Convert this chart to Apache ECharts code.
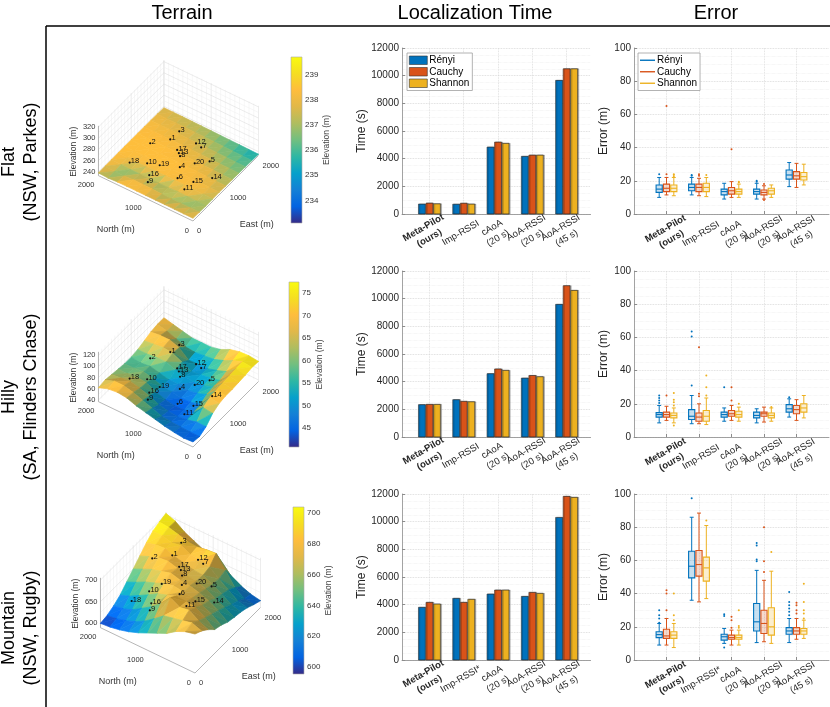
<!DOCTYPE html>
<html>
<head>
<meta charset="utf-8">
<title>Terrain, localization time and error</title>
<script src="https://cdn.jsdelivr.net/npm/echarts@6.0.0/dist/echarts.min.js"></script>
<style>
  html, body { margin: 0; padding: 0; background: #fff; }
  #chart { width: 830px; height: 707px; }
</style>
</head>
<body>
<div id="chart"></div>
<script>
// ---------------- data ----------------
const methods = ['Rényi', 'Cauchy', 'Shannon'];
const columnTitles = ['Terrain', 'Localization Time', 'Error'];
const terrainNames = [['Flat', '(NSW, Parkes)'], ['Hilly', '(SA, Flinders Chase)'], ['Mountain', '(NSW, Rugby)']];
const baselineLines = [['Meta-Pilot', '(ours)'], ['Imp-RSSI'], ['cAoA', '(20 s)'], ['AoA-RSSI', '(20 s)'], ['AoA-RSSI', '(45 s)']];
const baselineLinesMountain = [['Meta-Pilot', '(ours)'], ['Imp-RSSI*'], ['cAoA', '(20 s)'], ['AoA-RSSI', '(20 s)'], ['AoA-RSSI', '(45 s)']];
const groupPos = [1, 2, 3, 4, 5];

// localization time (s): one row per method, one column per baseline
const timeFlat = [
  [720, 710, 4840, 4170, 9660],
  [790, 780, 5200, 4260, 10500],
  [740, 720, 5110, 4260, 10500]
];
const timeHilly = [
  [2340, 2700, 4580, 4260, 9590],
  [2360, 2580, 4920, 4450, 10940],
  [2360, 2550, 4820, 4360, 10600]
];
const timeMountain = [
  [3810, 4460, 4770, 4600, 10310],
  [4170, 4170, 5060, 4890, 11830],
  [4050, 4390, 5060, 4820, 11760]
];

// error boxes (m): [lower whisker, Q1, median, Q3, upper whisker]
const boxFlat = [
  [[10, 13, 15, 17.5, 22], [11.5, 14, 16, 18, 22], [9, 11.5, 13.5, 15, 18.5], [9, 12, 13.5, 15, 18.5], [16.5, 21, 23.5, 26.5, 31]],
  [[11.5, 13.5, 15.5, 18, 22], [11, 13.5, 16, 18, 21.5], [10, 12, 14, 16, 19.5], [9, 11.5, 13, 14.5, 17], [16, 21, 23, 25.5, 30.5]],
  [[11, 13.5, 15.5, 17.5, 22], [10.5, 13.5, 16, 18.5, 22], [10, 12, 13.5, 15, 18], [10, 12, 14, 15.5, 17.5], [17.5, 20.5, 22.5, 25, 30]]
];
const outFlat = [
  [[1, 24], [2, 23], [2, 23.5], [4, 19.5], [4, 20]],
  [[1, 24], [1, 65], [2, 23], [2, 24], [3, 39], [4, 18], [4, 8.5]],
  [[1, 22.5], [1, 23.5], [1, 24], [2, 23.5], [3, 19], [3, 19.5]]
];
const boxHilly = [
  [[8.5, 12, 13.5, 14.7, 19], [8, 10.5, 12.5, 16.5, 25], [9.5, 12, 13.5, 15, 17.5], [8.5, 11.5, 13, 15, 17], [12, 15, 17, 19.5, 23]],
  [[10, 12, 13.5, 15, 18.5], [8, 9.5, 12, 14.5, 20], [10, 12.5, 14, 16, 19], [9, 12.5, 14, 15, 18], [10, 14, 16.5, 19, 22.5]],
  [[8.5, 11.5, 13, 14.5, 17.5], [7.5, 9.5, 12.5, 16, 23.5], [9.5, 12, 13.5, 15.5, 18], [9.5, 11.5, 13, 14.5, 17.5], [11.5, 15, 17.5, 20, 25]]
];
const outHilly = [
  [[1, 20.5], [1, 22], [1, 23.5], [1, 25], [2, 31], [2, 60.5], [2, 63.5], [3, 30], [5, 24]],
  [[1, 25], [2, 24.5], [2, 26], [2, 54], [3, 22], [3, 30]],
  [[1, 7], [1, 19], [1, 21], [1, 22.5], [1, 26.5], [2, 25], [2, 30], [2, 37], [3, 20], [4, 18]]
];
const boxMountain = [
  [[9, 13.5, 15.3, 17, 22], [36, 49.5, 56.5, 65.5, 86], [10, 12, 14, 15.5, 19], [10.5, 17.5, 23, 34, 54], [10.5, 15.5, 17.5, 19.5, 25]],
  [[9, 13, 14.5, 18.5, 25], [35, 50.5, 57.5, 66, 88.5], [9, 12.5, 13.5, 15, 18], [11, 16, 22, 30, 48], [12.5, 15.5, 17.5, 19.5, 25]],
  [[7.5, 13, 15, 17, 22], [37, 47.5, 55.5, 62, 81], [9, 12.5, 13.5, 15, 18], [10, 15, 20, 31.5, 53.5], [13, 15.5, 17.5, 19, 24]]
];
const outMountain = [
  [[1, 22.5], [1, 25], [1, 27], [1, 30], [2, 97.5], [3, 7.5], [3, 26.5], [3, 27.5], [4, 59.5], [4, 60.5], [4, 69], [4, 70.5],
   [5, 27], [5, 29], [5, 31], [5, 33], [5, 35], [5, 41]],
  [[1, 30], [1, 40], [1, 42], [3, 19.5], [3, 24], [3, 26], [4, 53], [4, 59.5], [4, 80], [5, 28], [5, 30], [5, 33], [5, 34.5]],
  [[1, 24], [1, 27], [1, 40], [2, 84], [3, 19.5], [3, 20.5], [3, 30], [4, 65], [5, 25], [5, 28], [5, 30], [5, 35], [5, 46]]
];

// terrain elevation (m) on a 200 m grid; rows = North 0..2000, columns = East 0..2000
const elevFlat = [
  [237.8, 237.3, 236.9, 237.3, 237.5, 237.2, 236.9, 236.6, 236.2, 235.8, 235.3],
  [238.0, 236.9, 236.9, 237.8, 238.0, 237.6, 237.1, 236.8, 236.4, 236.0, 235.6],
  [238.1, 236.8, 237.5, 238.1, 238.2, 238.0, 237.6, 237.1, 236.7, 236.2, 235.9],
  [238.2, 236.7, 237.8, 238.2, 238.3, 238.2, 237.9, 237.4, 237.0, 236.6, 236.2],
  [238.2, 237.0, 236.8, 238.3, 238.3, 238.3, 238.0, 237.7, 237.3, 236.9, 236.5],
  [238.3, 237.9, 236.7, 238.2, 238.4, 238.4, 238.2, 237.9, 237.5, 237.2, 236.8],
  [238.3, 238.1, 236.8, 238.1, 238.4, 238.4, 238.3, 238.1, 237.7, 237.4, 237.0],
  [238.2, 238.2, 237.0, 238.0, 238.4, 238.4, 238.4, 238.2, 237.9, 237.6, 237.2],
  [238.1, 236.9, 236.8, 237.9, 238.4, 238.4, 238.4, 238.3, 238.0, 237.7, 237.4],
  [237.0, 236.8, 237.7, 238.1, 238.4, 238.4, 238.4, 238.3, 238.1, 237.8, 237.5],
  [238.0, 238.2, 238.3, 238.4, 238.4, 238.4, 238.4, 238.3, 238.2, 237.9, 237.6]
];
const elevHilly = [
  [46, 44, 50, 62, 68, 70, 70, 71, 72, 74, 73],
  [45, 44, 50, 64, 70, 72, 73, 74, 75, 76, 75],
  [47, 45, 46, 48, 50, 56, 58, 58, 62, 70, 74],
  [50, 46, 44, 44, 46, 50, 52, 54, 56, 62, 70],
  [54, 48, 45, 43, 45, 47, 50, 52, 51, 56, 62],
  [58, 54, 49, 46, 48, 50, 52, 49, 51, 54, 58],
  [62, 60, 56, 52, 50, 50, 56, 58, 50, 52, 58],
  [68, 66, 62, 60, 56, 54, 62, 66, 64, 54, 58],
  [70, 70, 66, 62, 60, 58, 62, 68, 70, 60, 62],
  [68, 70, 64, 60, 58, 56, 60, 66, 70, 66, 66],
  [62, 64, 62, 60, 58, 58, 60, 64, 68, 70, 70]
];
const elevMountain = [
  [680, 672, 660, 645, 640, 632, 628, 625, 620, 612, 606],
  [675, 680, 670, 662, 655, 648, 640, 632, 625, 615, 610],
  [665, 675, 684, 675, 665, 660, 650, 645, 640, 630, 618],
  [650, 670, 680, 678, 672, 668, 662, 658, 655, 660, 628],
  [640, 665, 692, 680, 675, 674, 670, 668, 672, 688, 640],
  [630, 648, 668, 672, 678, 676, 672, 670, 678, 686, 650],
  [620, 632, 650, 665, 674, 682, 678, 675, 680, 682, 660],
  [612, 620, 636, 652, 664, 676, 684, 680, 690, 684, 670],
  [606, 612, 622, 640, 656, 670, 682, 688, 686, 690, 680],
  [602, 606, 614, 628, 645, 660, 674, 686, 692, 696, 695],
  [600, 603, 610, 620, 635, 650, 665, 680, 692, 698, 703]
];
const areaSize = 2000;
const northTicks = [0, 1000, 2000];
const eastTicks = [0, 1000, 2000];
const zlimFlat = [233, 322], zTicksFlat = [240, 260, 280, 300, 320];
const zlimHilly = [37, 126], zTicksHilly = [40, 60, 80, 100, 120];
const zlimMountain = [590, 705], zTicksMountain = [600, 650, 700];
const cbarFlat = [233.1, 239.7], cbTicksFlat = [234, 235, 236, 237, 238, 239];
const cbarHilly = [40.8, 77.4], cbTicksHilly = [45, 50, 55, 60, 65, 70, 75];
const cbarMountain = [595.5, 704], cbTicksMountain = [600, 620, 640, 660, 680, 700];

// sensor positions (m)
const sensorIds = [1, 2, 3, 4, 5, 6, 7, 8, 9, 10, 11, 12, 13, 14, 15, 16, 17, 18, 19, 20];
const sensorE = [1400, 1120, 1660, 920, 1345, 670, 1550, 1150, 310, 680, 510, 1580, 1200, 1020, 750, 470, 1250, 520, 760, 1150];
const sensorN = [1450, 1680, 1440, 915, 580, 790, 900, 1070, 1170, 1440, 535, 1030, 1130, 300, 510, 1250, 1200, 1700, 1230, 760];

// ---------------- styling / layout ----------------
const FONT = '"Liberation Sans", Arial, Helvetica, sans-serif';
const colors = ['#0072BD', '#D95319', '#EDB120'];
const parula = ['#352a87', '#0363e1', '#1480d6', '#06a0cb', '#2eb7a4', '#71bf80',
                '#afbd5f', '#e1b849', '#febd3d', '#f5de21', '#f9fb0e'];
const rowTop = [48, 271, 494], rowH = 166;
const timeLay = {left: 402, width: 188.6, xlim: [0.2, 5.7], labelC: [-3, 19]};
const errLay = {left: 634, width: 195, xlim: [0, 6], labelC: [2, 20]};
const terrainF = [[193, 221], [193, 447], [195, 673]];
const cbBox = [[291, 57, 11, 166], [289, 282, 10, 165], [293, 507, 11, 167]];
const cbGap = [20, 13, 18];
const PX = 115;                       // pixels per unit of the projected box
const VIEW = {az: -55.3, el: 43.8, zBox: 0.6};
const AZ = VIEW.az * Math.PI / 180, EL = VIEW.el * Math.PI / 180;
const LIGHT = (function () { const v = [-0.45, 0.2, 0.87]; const l = Math.hypot(v[0], v[1], v[2]); return v.map(c => c / l); })();
const BAR_W = 0.2, BAR_OFF = 0.22, BOX_W = 0.19, BOX_OFF = 0.225;
const LABEL_ROT = Math.PI / 6, LABEL_LH = 12, LABEL_SIZE = 9.5;

const terrains = [
  {elev: elevFlat, zlim: zlimFlat, zTicks: zTicksFlat, cbar: cbarFlat, cbTicks: cbTicksFlat},
  {elev: elevHilly, zlim: zlimHilly, zTicks: zTicksHilly, cbar: cbarHilly, cbTicks: cbTicksHilly},
  {elev: elevMountain, zlim: zlimMountain, zTicks: zTicksMountain, cbar: cbarMountain, cbTicks: cbTicksMountain}
];
const rows = [
  {time: timeFlat, box: boxFlat, out: outFlat, labels: baselineLines},
  {time: timeHilly, box: boxHilly, out: outHilly, labels: baselineLines},
  {time: timeMountain, box: boxMountain, out: outMountain, labels: baselineLinesMountain}
];

// 3D view: (east, north, height) in unit box -> projected (u, v)
function project(e, n, zt) {
  return [Math.cos(AZ) * e + Math.sin(AZ) * n,
          -Math.sin(EL) * Math.sin(AZ) * e + Math.sin(EL) * Math.cos(AZ) * n + Math.cos(EL) * VIEW.zBox * zt];
}
const U_MIN = project(0, 1, 0)[0], U_MAX = project(1, 0, 0)[0], V_MAX = project(1, 1, 1)[1];

function cmap(value, range) {
  const t = Math.max(0, Math.min(1, (value - range[0]) / (range[1] - range[0])));
  return echarts.color.lerp(t, parula);
}
function shaded(color, p, q, s) {
  const ux = q[0] - p[0], uy = q[1] - p[1], uz = q[2] - p[2];
  const vx = s[0] - p[0], vy = s[1] - p[1], vz = s[2] - p[2];
  let nx = uy * vz - uz * vy, ny = uz * vx - ux * vz, nz = ux * vy - uy * vx;
  if (nz < 0) { nx = -nx; ny = -ny; nz = -nz; }
  const len = Math.hypot(nx, ny, nz) || 1;
  const dot = (nx * LIGHT[0] + ny * LIGHT[1] + nz * LIGHT[2]) / len;
  const f = Math.max(0.72, Math.min(1.12, 1 + 0.9 * (dot - LIGHT[2])));
  const c = echarts.color.parse(color);
  return 'rgb(' + [0, 1, 2].map(k => Math.round(Math.min(255, c[k] * f))).join(',') + ')';
}

const grid = [], xAxis = [], yAxis = [], series = [];
const add = (arr, item) => { arr.push(item); return arr.length - 1; };
const hiddenAxis = (gi, min, max) => ({type: 'value', gridIndex: gi, min, max, show: false});

// ---------------- terrain panels ----------------
terrains.forEach((t, r) => {
  const F = terrainF[r];
  const gi = add(grid, {left: F[0] + U_MIN * PX, top: F[1] - V_MAX * PX, width: (U_MAX - U_MIN) * PX, height: V_MAX * PX});
  const xi = add(xAxis, hiddenAxis(gi, U_MIN, U_MAX));
  const yi = add(yAxis, hiddenAxis(gi, 0, V_MAX));
  const g = t.elev, nR = g.length, nC = g[0].length;
  const zt = z => (z - t.zlim[0]) / (t.zlim[1] - t.zlim[0]);

  // walls, axis lines, tick labels, axis titles
  series.push({
    type: 'custom', xAxisIndex: xi, yAxisIndex: yi, z: 2, silent: true, clip: false,
    data: [[0, 0]],
    renderItem: function (params, api) {
      const P = (e, n, h) => api.coord(project(e, n, h));
      const kids = [];
      const seg = (a, b, stroke, w) => kids.push({type: 'line', shape: {x1: a[0], y1: a[1], x2: b[0], y2: b[1]}, style: {stroke, lineWidth: w}});
      const txt = (p, dx, dy, text, align, va, size, rot) => kids.push({
        type: 'text', x: p[0] + dx, y: p[1] + dy, rotation: rot || 0,
        style: {text, fill: '#333', fontSize: size, fontFamily: FONT, align, verticalAlign: va}
      });
      for (let k = 0; k <= 20; k++) {
        const f = k / 20, c = k % 10 === 0 ? '#d8d8d8' : '#eeeeee';
        seg(P(f, 1, 0), P(f, 1, 1), c, 0.5);
        seg(P(1, f, 0), P(1, f, 1), c, 0.5);
      }
      const step = t.zTicks[1] - t.zTicks[0];
      t.zTicks.forEach(z => {
        [z, z - step / 2].forEach((zz, m) => {
          if (zz < t.zlim[0]) return;
          const c = m === 0 ? '#d8d8d8' : '#eeeeee';
          seg(P(0, 1, zt(zz)), P(1, 1, zt(zz)), c, 0.5);
          seg(P(1, 0, zt(zz)), P(1, 1, zt(zz)), c, 0.5);
        });
      });
      const ax = '#a4a4a4';
      seg(P(0, 1, 0), P(0, 0, 0), ax, 0.8);
      seg(P(0, 0, 0), P(1, 0, 0), ax, 0.8);
      seg(P(0, 1, 0), P(0, 1, 1), ax, 0.8);
      northTicks.forEach(v => txt(P(0, v / areaSize, 0), -4, 5.5, String(v), 'right', 'top', 7.5));
      eastTicks.forEach(v => txt(P(v / areaSize, 0, 0), 4, 10, String(v), 'left', 'middle', 7.5));
      t.zTicks.forEach(z => txt(P(0, 1, zt(z)), -3, 0, String(z), 'right', 'middle', 7.5));
      txt(P(0, 0.5, 0), -30, 31, 'North (m)', 'center', 'middle', 9);
      txt(P(0.5, 0, 0), 31, 36, 'East (m)', 'center', 'middle', 9);
      txt(P(0, 1, 0.5), -25, 1, 'Elevation (m)', 'center', 'middle', 8.5, Math.PI / 2);
      return {type: 'group', children: kids};
    }
  });

  // surface, painted from the back corner to the front corner
  const cells = [];
  for (let i = 0; i < nR - 1; i++) for (let j = 0; j < nC - 1; j++) cells.push([i, j]);
  cells.sort((a, b) => (b[0] + b[1]) - (a[0] + a[1]));
  series.push({
    type: 'custom', xAxisIndex: xi, yAxisIndex: yi, z: 3, silent: true, clip: false,
    data: cells,
    renderItem: function (params, api) {
      const i = api.value(0), j = api.value(1);
      const node = (ii, jj) => [jj / (nC - 1), ii / (nR - 1), zt(g[ii][jj]), g[ii][jj]];
      const A = node(i, j), B = node(i, j + 1), C = node(i + 1, j + 1), D = node(i + 1, j);
      const tri = (p, q, s) => {
        const base = cmap((p[3] + q[3] + s[3]) / 3, t.cbar);
        const box = v => [v[0], v[1], v[2] * VIEW.zBox];
        const fill = shaded(base, box(p), box(q), box(s));
        return {
          type: 'polygon', z2: 1000 - (i + j) * 2,
          shape: {points: [p, q, s].map(v => api.coord(project(v[0], v[1], v[2])))},
          style: {fill, stroke: fill, lineWidth: 0.7}
        };
      };
      return {type: 'group', children: [tri(B, C, D), tri(A, B, D)]};
    }
  });

  // sensors
  series.push({
    type: 'custom', xAxisIndex: xi, yAxisIndex: yi, z: 4, silent: true, clip: false,
    data: sensorIds.map((id, k) => [sensorE[k], sensorN[k], id]),
    renderItem: function (params, api) {
      const e = api.value(0) / areaSize, n = api.value(1) / areaSize;
      const z = g[Math.round(n * (nR - 1))][Math.round(e * (nC - 1))];
      const p = api.coord(project(e, n, zt(z)));
      return {type: 'group', children: [
        {type: 'circle', shape: {cx: p[0], cy: p[1], r: 1.1}, style: {fill: '#111'}},
        {type: 'text', x: p[0] + 1.2, y: p[1] - 1.5, style: {text: String(api.value(2)), fill: '#111', fontSize: 7.5, fontFamily: FONT, align: 'left', verticalAlign: 'middle'}}
      ]};
    }
  });

  // colorbar
  const b = cbBox[r];
  const cgi = add(grid, {left: b[0], top: b[1], width: b[2], height: b[3]});
  const cxi = add(xAxis, hiddenAxis(cgi, 0, 1));
  const cyi = add(yAxis, {
    type: 'value', gridIndex: cgi, min: t.cbar[0], max: t.cbar[1], position: 'right',
    axisLine: {show: false}, axisTick: {show: false}, splitLine: {show: false},
    axisLabel: {customValues: t.cbTicks, fontSize: 8, color: '#333', margin: 3, fontFamily: FONT},
    name: 'Elevation (m)', nameLocation: 'middle', nameRotate: 90, nameGap: cbGap[r],
    nameTextStyle: {fontSize: 8.5, color: '#444', fontFamily: FONT}
  });
  series.push({
    type: 'custom', xAxisIndex: cxi, yAxisIndex: cyi, z: 2, silent: true, clip: false,
    data: [[0, t.cbar[0]]],
    renderItem: function (params, api) {
      const tl = api.coord([0, t.cbar[1]]), br = api.coord([1, t.cbar[0]]);
      return {
        type: 'rect', shape: {x: tl[0], y: tl[1], width: br[0] - tl[0], height: br[1] - tl[1]},
        style: {
          fill: {type: 'linear', x: 0, y: 1, x2: 0, y2: 0, colorStops: parula.map((c, k) => ({offset: k / (parula.length - 1), color: c}))},
          stroke: '#aaaaaa', lineWidth: 0.6
        }
      };
    }
  });
});

// ---------------- time and error panels ----------------
function panelXAxis(gi, lay) {
  return add(xAxis, {
    type: 'value', gridIndex: gi, min: lay.xlim[0], max: lay.xlim[1], position: 'bottom',
    axisLine: {show: true, onZero: false, lineStyle: {color: '#8c8c8c', width: 0.8}},
    axisTick: {show: true, inside: true, length: 3, customValues: groupPos, lineStyle: {color: '#8c8c8c'}},
    axisLabel: {show: false},
    splitLine: {show: true, lineStyle: {color: '#d8d8d8', type: 'dotted', width: 0.8}}
  });
}
function valueAxis(gi, max, interval, name, gap) {
  return add(yAxis, {
    type: 'value', gridIndex: gi, min: 0, max, interval,
    axisLine: {show: true, lineStyle: {color: '#8c8c8c', width: 0.8}},
    axisTick: {show: true, inside: true, length: 3, lineStyle: {color: '#8c8c8c'}},
    axisLabel: {fontSize: 10, color: '#262626', margin: 3, fontFamily: FONT, formatter: v => String(v)},
    splitLine: {show: true, lineStyle: {color: '#d4d4d4', type: 'dotted', width: 0.8}},
    minorTick: {show: false, splitNumber: 4},
    minorSplitLine: {show: true, lineStyle: {color: '#e9e9e9', type: 'dotted', width: 0.6}},
    name, nameLocation: 'middle', nameGap: gap,
    nameTextStyle: {fontSize: 12, color: '#262626', fontFamily: FONT}
  });
}
// rotated category labels: each block is centred below its tick, lines centred within the block
function labelSeries(xi, yi, lay, lines) {
  const pp = [Math.sin(LABEL_ROT), Math.cos(LABEL_ROT)];
  return {
    type: 'custom', xAxisIndex: xi, yAxisIndex: yi, z: 5, silent: true, clip: false,
    data: groupPos.map(x => [x, 0]),
    renderItem: function (params, api) {
      const k = params.dataIndex, bold = k === 0, ls = lines[k];
      const tick = api.coord([api.value(0), 0]);
      const cx = tick[0] + lay.labelC[0], cy = tick[1] + lay.labelC[1];
      return {type: 'group', children: ls.map((s, m) => {
        const off = (m - (ls.length - 1) / 2) * LABEL_LH;
        return {
          type: 'text', x: cx + off * pp[0], y: cy + off * pp[1], rotation: LABEL_ROT,
          style: {text: s, fill: '#262626', fontSize: LABEL_SIZE, fontWeight: bold ? 'bold' : 'normal', fontFamily: FONT,
                  align: 'center', verticalAlign: 'middle'}
        };
      })};
    }
  };
}

rows.forEach((row, r) => {
  // time bars
  const tg = add(grid, {left: timeLay.left, top: rowTop[r], width: timeLay.width, height: rowH});
  const txi = panelXAxis(tg, timeLay);
  const tyi = valueAxis(tg, 12000, 2000, 'Time (s)', 33);
  methods.forEach((m, k) => {
    series.push({
      type: 'custom', name: m, xAxisIndex: txi, yAxisIndex: tyi, z: 3, silent: true, clip: false,
      itemStyle: {color: colors[k]},
      data: row.time[k].map((v, g) => [groupPos[g], v]),
      renderItem: function (params, api) {
        const x = api.value(0) + (k - 1) * BAR_OFF;
        const p0 = api.coord([x - BAR_W / 2, api.value(1)]), p1 = api.coord([x + BAR_W / 2, 0]);
        return {
          type: 'rect', shape: {x: p0[0], y: p0[1], width: p1[0] - p0[0], height: p1[1] - p0[1]},
          style: {fill: colors[k], stroke: '#2b2b2b', lineWidth: 0.6, shadowColor: 'rgba(0,0,0,0.3)', shadowOffsetX: 1.2, shadowBlur: 0}
        };
      }
    });
  });
  series.push(labelSeries(txi, tyi, timeLay, row.labels));

  // error boxes
  const eg = add(grid, {left: errLay.left, top: rowTop[r], width: errLay.width, height: rowH});
  const exi = panelXAxis(eg, errLay);
  const eyi = valueAxis(eg, 100, 20, 'Error (m)', 24);
  methods.forEach((m, k) => {
    const c = colors[k];
    series.push({
      type: 'custom', name: m, xAxisIndex: exi, yAxisIndex: eyi, z: 3, silent: true, clip: false,
      itemStyle: {color: c},
      data: row.box[k].map((b, g) => [groupPos[g]].concat(b)),
      renderItem: function (params, api) {
        const x = api.value(0) + (k - 1) * BOX_OFF;
        const lo = api.value(1), q1 = api.value(2), md = api.value(3), q3 = api.value(4), hi = api.value(5);
        const hw = BOX_W / 2, cw = BOX_W * 0.32;
        const P = (xx, yy) => api.coord([xx, yy]);
        const line = (a, b, w) => ({type: 'line', shape: {x1: a[0], y1: a[1], x2: b[0], y2: b[1]}, style: {stroke: c, lineWidth: w}});
        const tl = P(x - hw, q3), br = P(x + hw, q1);
        return {type: 'group', children: [
          line(P(x, q3), P(x, hi), 1), line(P(x, q1), P(x, lo), 1),
          line(P(x - cw, hi), P(x + cw, hi), 1), line(P(x - cw, lo), P(x + cw, lo), 1),
          {type: 'rect', shape: {x: tl[0], y: tl[1], width: br[0] - tl[0], height: br[1] - tl[1]},
           style: {fill: echarts.color.modifyAlpha(c, 0.22), stroke: c, lineWidth: 1.1}},
          line(P(x - hw, md), P(x + hw, md), 1.1)
        ]};
      }
    });
    series.push({
      type: 'custom', name: m + ' outliers', xAxisIndex: exi, yAxisIndex: eyi, z: 3, silent: true, clip: false,
      data: row.out[k],
      renderItem: function (params, api) {
        const p = api.coord([api.value(0) + (k - 1) * BOX_OFF, api.value(1)]);
        return {type: 'circle', shape: {cx: p[0], cy: p[1], r: 1}, style: {fill: c}};
      }
    });
  });
  series.push(labelSeries(exi, eyi, errLay, row.labels));
});

// ---------------- page furniture ----------------
const graphic = [
  {type: 'line', shape: {x1: 46, y1: 26, x2: 830, y2: 26}, style: {stroke: '#000', lineWidth: 1.5}},
  {type: 'line', shape: {x1: 46, y1: 26, x2: 46, y2: 707}, style: {stroke: '#000', lineWidth: 1.5}}
];
[182, 475, 716].forEach((x, k) => graphic.push({
  type: 'text', x, y: 13,
  style: {text: columnTitles[k], fontSize: 20, fontFamily: FONT, fill: '#000', align: 'center', verticalAlign: 'middle'}
}));
[162, 397, 628].forEach((y, k) => graphic.push({
  type: 'text', x: 20, y, rotation: Math.PI / 2,
  style: {text: terrainNames[k].join('\n'), fontSize: 18, lineHeight: 22, fontFamily: FONT, fill: '#000', align: 'center', verticalAlign: 'middle'}
}));

const legendBase = {
  orient: 'vertical', top: 53, selectedMode: false, padding: [2, 3, 2, 2], itemGap: 1,
  backgroundColor: '#fff', borderColor: '#a0a0a0', borderWidth: 0.8, borderRadius: 0,
  textStyle: {fontSize: 10, lineHeight: 10.5, color: '#000', fontFamily: FONT, padding: [0, 0, 0, -3]}
};
const option = {
  animation: false,
  backgroundColor: '#fff',
  textStyle: {fontFamily: FONT},
  grid, xAxis, yAxis, series, graphic,
  legend: [
    Object.assign({}, legendBase, {left: 407, itemWidth: 18, itemHeight: 8.5,
      data: methods.map((m, k) => ({name: m, icon: 'rect', itemStyle: {color: colors[k], borderColor: '#333', borderWidth: 0.6}}))}),
    Object.assign({}, legendBase, {left: 638, itemWidth: 15, itemHeight: 1.4,
      data: methods.map((m, k) => ({name: m, icon: 'rect', itemStyle: {color: colors[k], borderWidth: 0}}))})
  ]
};

const chart = echarts.init(document.getElementById('chart'), null, {renderer: 'canvas'});
chart.setOption(option);
</script>
</body>
</html>
